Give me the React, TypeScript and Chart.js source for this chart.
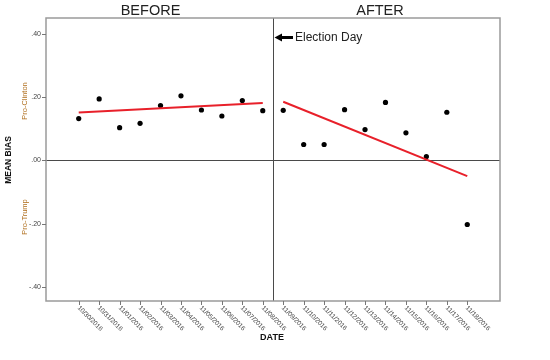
import React, { useEffect, useRef } from "react";
import { Chart, registerables } from "chart.js";

Chart.register(...registerables);

const dates = [
  "10/30/2016", "10/31/2016", "11/01/2016", "11/02/2016", "11/03/2016",
  "11/04/2016", "11/05/2016", "11/06/2016", "11/07/2016", "11/08/2016",
  "11/09/2016", "11/10/2016", "11/11/2016", "11/12/2016", "11/13/2016",
  "11/14/2016", "11/15/2016", "11/16/2016", "11/17/2016", "11/18/2016",
];
const meanBias = [
  0.132, 0.194, 0.103, 0.117, 0.173, 0.204, 0.159, 0.140, 0.189, 0.157,
  0.158, 0.050, 0.050, 0.160, 0.097, 0.183, 0.087, 0.012, 0.152, -0.203,
];
const beforeFit = [0.151, 0.181];
const afterFit = [0.185, -0.05];
const yTicks = [0.4, 0.2, 0, -0.2, -0.4];
const yTickLabels = [".40", ".20", ".00", "-.20", "-.40"];
const panelTitles = ["BEFORE", "AFTER"];

const FONT = "'Liberation Sans', Arial, sans-serif";

const decor = {
  id: "decor",
  beforeDatasetsDraw(chart: any) {
    const { ctx, chartArea: a, scales } = chart;
    const xs = scales.x;
    const ys = scales.y;
    ctx.save();
    // zero line
    ctx.strokeStyle = "#4a4a4a";
    ctx.lineWidth = 1;
    const y0 = Math.round(ys.getPixelForValue(0)) + 0.5;
    ctx.beginPath();
    ctx.moveTo(a.left, y0);
    ctx.lineTo(a.right, y0);
    ctx.stroke();
    // divider
    const xd = Math.round(xs.getPixelForValue(9.5)) + 0.5;
    ctx.beginPath();
    ctx.moveTo(xd, a.top);
    ctx.lineTo(xd, a.bottom);
    ctx.stroke();
    ctx.restore();
  },
  afterDraw(chart: any) {
    const { ctx, chartArea: a, scales } = chart;
    const xs = scales.x;
    const ys = scales.y;
    ctx.save();
    // border
    ctx.strokeStyle = "#9a9a9a";
    ctx.lineWidth = 1.5;
    ctx.strokeRect(a.left, a.top, a.right - a.left, a.bottom - a.top);

    // y ticks
    ctx.strokeStyle = "#777";
    ctx.lineWidth = 1;
    ctx.fillStyle = "#444";
    ctx.font = `7px ${FONT}`;
    ctx.textAlign = "right";
    ctx.textBaseline = "middle";
    yTicks.forEach((v, i) => {
      const y = Math.round(ys.getPixelForValue(v)) + 0.5;
      ctx.beginPath();
      ctx.moveTo(a.left - 4, y);
      ctx.lineTo(a.left, y);
      ctx.stroke();
      ctx.fillText(yTickLabels[i], a.left - 5, y);
    });

    // x ticks
    ctx.font = `6.5px ${FONT}`;
    ctx.textAlign = "left";
    ctx.textBaseline = "middle";
    dates.forEach((d, i) => {
      const x = Math.round(xs.getPixelForValue(i)) + 0.5;
      ctx.beginPath();
      ctx.moveTo(x, a.bottom);
      ctx.lineTo(x, a.bottom + 4);
      ctx.stroke();
      ctx.save();
      ctx.translate(x - 1, a.bottom + 6);
      ctx.rotate(Math.PI / 4);
      ctx.fillText(d, 0, 0);
      ctx.restore();
    });

    // panel titles
    ctx.fillStyle = "#222";
    ctx.font = `14.5px ${FONT}`;
    ctx.textAlign = "center";
    ctx.textBaseline = "middle";
    ctx.fillText(panelTitles[0], 150.5, 11);
    ctx.fillText(panelTitles[1], 380, 11);

    // Election Day annotation
    const xd = xs.getPixelForValue(9.5);
    const ay = 37.5;
    ctx.fillStyle = "#000";
    ctx.beginPath();
    ctx.moveTo(xd + 1.5, ay);
    ctx.lineTo(xd + 9, ay - 4);
    ctx.lineTo(xd + 9, ay + 4);
    ctx.closePath();
    ctx.fill();
    ctx.fillRect(xd + 8, ay - 1.5, 12, 3);
    ctx.fillStyle = "#222";
    ctx.font = `12px ${FONT}`;
    ctx.textAlign = "left";
    ctx.fillText("Election Day", xd + 22, ay + 0.5);

    // axis titles
    ctx.fillStyle = "#111";
    ctx.font = `bold 9px ${FONT}`;
    ctx.textAlign = "center";
    ctx.fillText("DATE", 272, 338);

    ctx.save();
    ctx.translate(9, 160);
    ctx.rotate(-Math.PI / 2);
    ctx.font = `bold 8.5px ${FONT}`;
    ctx.fillText("MEAN BIAS", 0, 0);
    ctx.restore();

    ctx.fillStyle = "#b06f1e";
    ctx.font = `7.5px ${FONT}`;
    ctx.save();
    ctx.translate(25, 101);
    ctx.rotate(-Math.PI / 2);
    ctx.fillText("Pro-Clinton", 0, 0);
    ctx.restore();
    ctx.save();
    ctx.translate(25, 217);
    ctx.rotate(-Math.PI / 2);
    ctx.fillText("Pro-Trump", 0, 0);
    ctx.restore();

    ctx.restore();
  },
};

export default function App() {
  const ref = useRef<HTMLCanvasElement>(null);
  useEffect(() => {
    document.body.style.margin = "0";
    const points = meanBias.map((v, i) => ({ x: i, y: v }));
    const chart = new Chart(ref.current!, {
      type: "scatter",
      data: {
        datasets: [
          {
            type: "line",
            data: [
              { x: 0, y: beforeFit[0] },
              { x: 9, y: beforeFit[1] },
            ],
            borderColor: "#e8202a",
            borderWidth: 2,
            pointRadius: 0,
            fill: false,
          },
          {
            type: "line",
            data: [
              { x: 10, y: afterFit[0] },
              { x: 19, y: afterFit[1] },
            ],
            borderColor: "#e8202a",
            borderWidth: 2,
            pointRadius: 0,
            fill: false,
          },
          {
            data: points,
            backgroundColor: "#000",
            borderColor: "#000",
            pointRadius: 2.6,
            borderWidth: 0,
          },
        ],
      },
      options: {
        responsive: false,
        animation: false,
        layout: { padding: { left: 46, right: 50, top: 18, bottom: 59 } },
        plugins: { legend: { display: false }, tooltip: { enabled: false } },
        scales: {
          x: { type: "linear", min: -1.6, max: 20.6, display: false },
          y: { type: "linear", min: -0.445, max: 0.45, display: false },
        },
      },
      plugins: [decor],
    });
    return () => chart.destroy();
  }, []);
  return (
    <div style={{ width: 550, height: 360, background: "#fff" }}>
      <canvas ref={ref} width={550} height={360} style={{ display: "block" }} />
    </div>
  );
}
